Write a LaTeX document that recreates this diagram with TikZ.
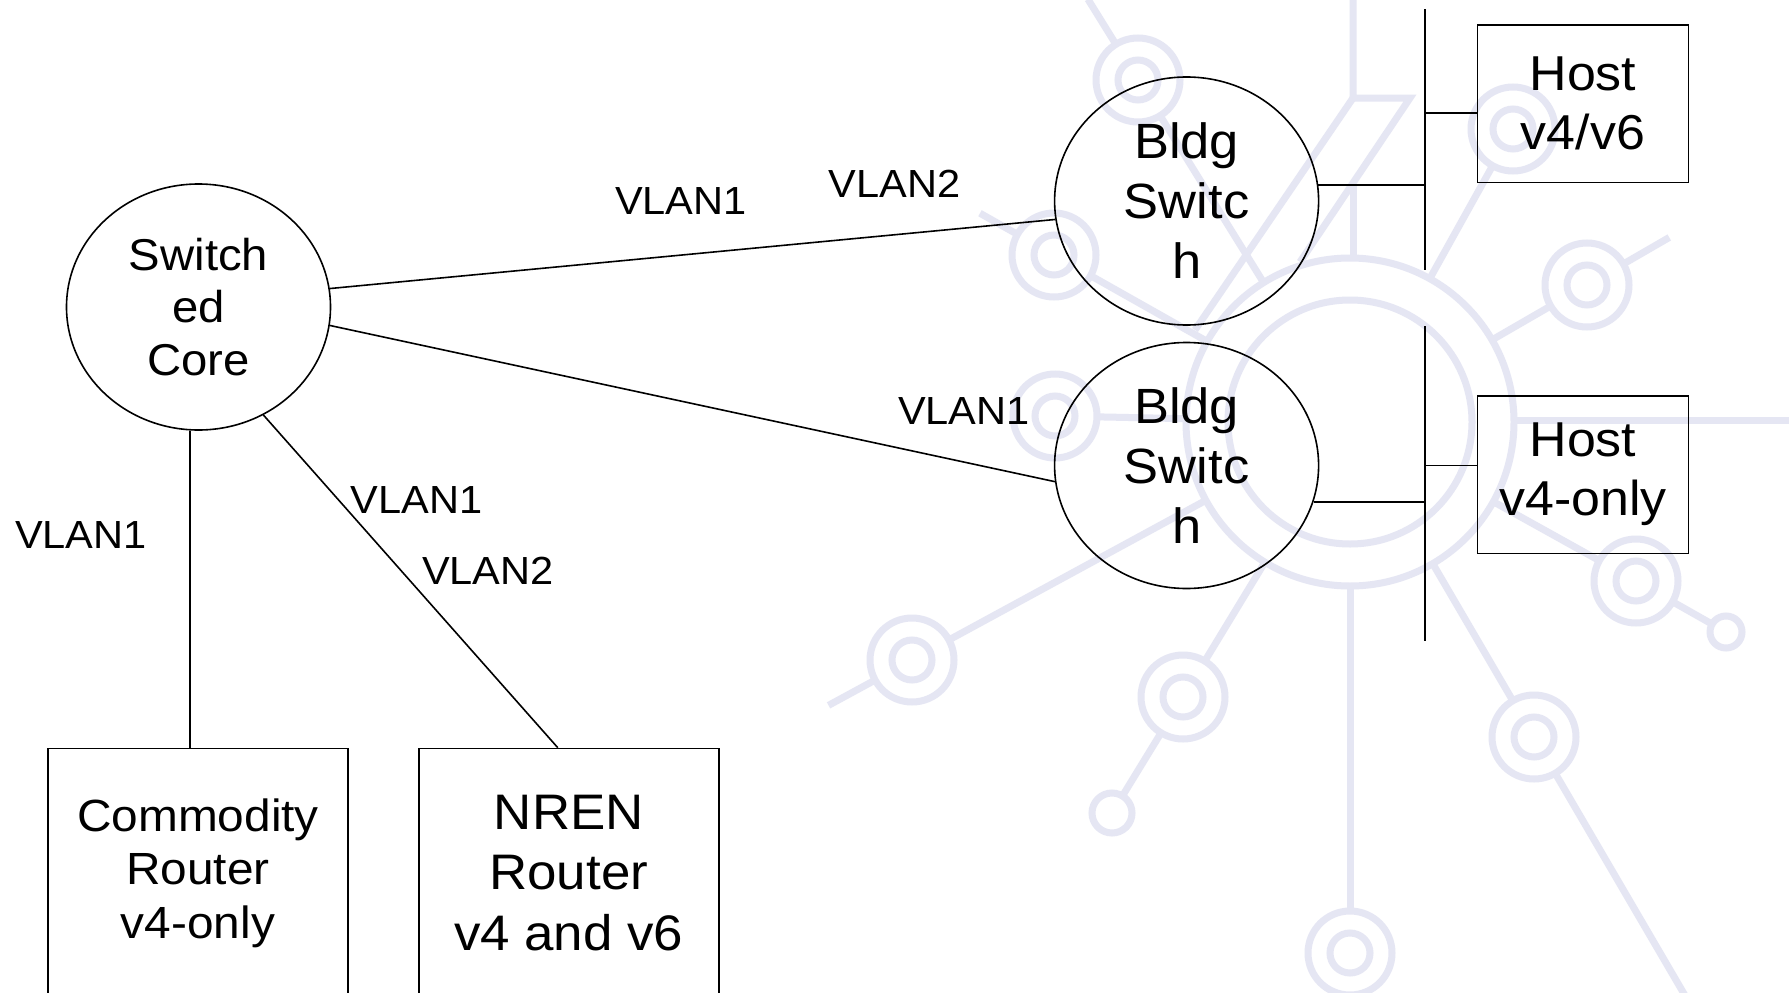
\documentclass[tikz,border=0pt]{standalone}
\usepackage{fontspec}
\setmainfont{Liberation Sans}[FakeStretch=1.06]
\usetikzlibrary{calc,shapes.geometric}
\definecolor{wmc}{RGB}{229,230,243}
\begin{document}
\begin{tikzpicture}[x=1pt,y=-1pt,
  wm/.style={draw=wmc,line width=7pt},
  ln/.style={draw=black,line width=1.6pt},
  sw/.style={ellipse,draw=black,line width=1.6pt,minimum width=264pt,minimum height=246pt,inner sep=0pt,align=center,font=\fontsize{49.5}{60}\selectfont},
  bx/.style={rectangle,draw=black,line width=1.6pt,inner sep=0pt,align=center},
  lbl/.style={inner sep=0pt,font=\fontsize{39.2}{47}\selectfont}]
\useasboundingbox (0,0) rectangle (1789,993);
\clip (0,0) rectangle (1789,993);
\fill[white] (0,0) rectangle (1789,993);

% ---------- watermark ----------
\coordinate (C) at (1350,422);
\coordinate (t1) at (1138,80);
\coordinate (t2) at (1054,255);
\coordinate (t3) at (1055,416);
\coordinate (t4) at (1513,129);
\coordinate (t5) at (1587,285);
\coordinate (t6) at (1636,581);
\coordinate (t7) at (1534,737);
\coordinate (t8) at (1350,953);
\coordinate (t9) at (1183,697);
\coordinate (t10) at (912,660);
\coordinate (s1) at (1112,813);
\coordinate (s2) at (1726,632);
\draw[wm] (C) circle[radius=164pt];
\draw[wm] (C) circle[radius=122pt];
\foreach \t in {t1,t2,t3,t4,t5,t6,t7,t8,t9,t10}{
  \draw[wm] (\t) circle[radius=42pt];
  \draw[wm] (\t) circle[radius=20pt];
  \draw[wm] ($(C)!164pt!(\t)$) -- ($(\t)!42pt!(C)$);
}
\draw[wm] ($(t1)!-42pt!(C)$) -- ($(t1)!-95pt!(C)$);
\draw[wm] ($(t2)!-42pt!(C)$) -- ($(t2)!-85pt!(C)$);
\draw[wm] ($(t5)!-42pt!(C)$) -- ($(t5)!-95pt!(C)$);
\draw[wm] ($(t7)!-42pt!(C)$) -- ($(t7)!-500pt!(C)$);
\draw[wm] ($(t10)!-42pt!(C)$) -- ($(t10)!-95pt!(C)$);
\draw[wm] (1514,420) -- (1800,420);
\draw[wm] (s1) circle[radius=20pt];
\draw[wm] (s2) circle[radius=16pt];
\draw[wm] ($(t6)!42pt!(s2)$) -- ($(s2)!16pt!(t6)$);
\draw[wm] ($(t9)!42pt!(s1)$) -- ($(s1)!20pt!(t9)$);
\draw[wm,line join=miter] (1353,-10) -- (1353,98) -- (1410,98) -- (1300,262);
\draw[wm] (1353,98) -- (1195,330);
\draw[wm] (1353,185) -- (1353,258);

% ---------- diagram ----------
\node[sw,font=\fontsize{44.6}{52.5}\selectfont] (core) at (198.5,307) {Switch\\ed\\Core};
\node[sw,minimum height=248pt] (b1) at (1186.6,201) {Bldg\\Switc\\h};
\node[sw] (b2) at (1186.6,465.5) {Bldg\\Switc\\h};
\node[bx,minimum width=211pt,minimum height=157.6pt,font=\fontsize{49}{59}\selectfont] (h1) at (1583,103.8) {Host\\v4/v6};
\node[bx,minimum width=211pt,minimum height=157.6pt,font=\fontsize{49}{59}\selectfont] (h2) at (1583,474.7) {Host\\v4-only};
\node[bx,minimum width=300pt,minimum height=249pt,font=\fontsize{45.1}{53.6}\selectfont] (comm) at (198,873) {Commodity\\Router\\v4-only};
\node[bx,minimum width=300pt,minimum height=249pt,font=\fontsize{49.9}{60.5}\selectfont] (nren) at (568.75,873) {NREN\\Router\\v4 and v6};

\coordinate (b1t) at (1425,9);
\coordinate (b1b) at (1425,270);
\coordinate (b2t) at (1425,326);
\coordinate (b2b) at (1425,641);

\draw[ln] (core.8) -- (b1.188);
\draw[ln] (core.-8) -- (b2.187);
\draw[ln] (core.266) -- (core.266 |- comm.north);
\draw[ln] (core.-59) -- (nren.95);
\draw[ln] (b1t) -- (b1b);
\draw[ln] (b2t) -- (b2b);
\draw[ln] (b1.7) -- (b1.7 -| b1t);
\draw[ln] (b2.-16) -- (b2.-16 -| b2t);
\draw[ln] (h1.185) -- (h1.185 -| b1t);
\draw[ln] (h2.175) -- (h2.175 -| b2t);

\node[lbl] (l1) at (681,201) {VLAN1};
\node[lbl] (l2) at (894.5,184) {VLAN2};
\node[lbl] (l3) at (964,411) {VLAN1};
\node[lbl] (l4) at (416.5,500) {VLAN1};
\node[lbl] (l5) at (488,570.5) {VLAN2};
\node[lbl] (l6) at (81,535) {VLAN1};
\end{tikzpicture}
\end{document}
